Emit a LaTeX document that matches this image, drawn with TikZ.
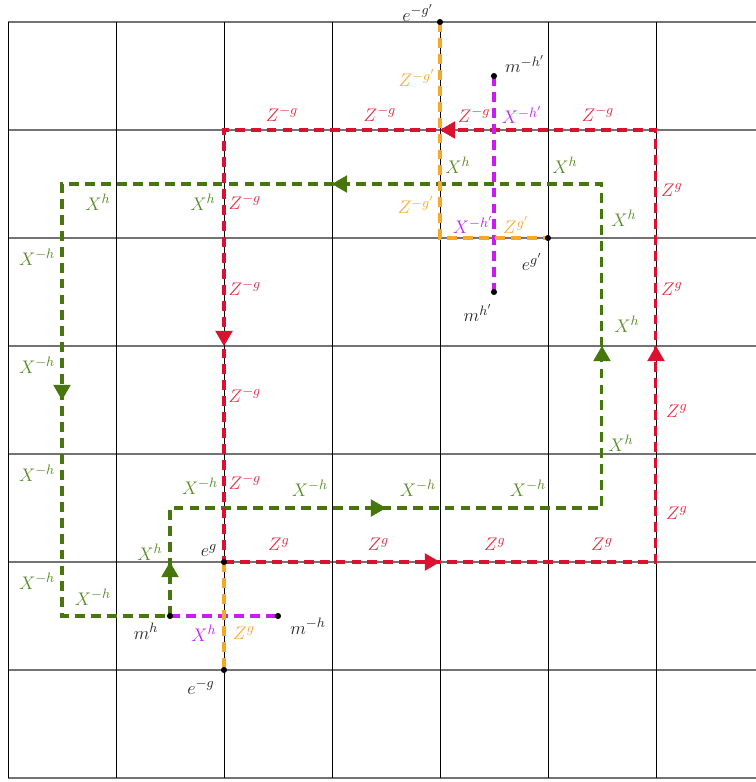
\documentclass[tikz,border=0pt]{standalone}
\usetikzlibrary{arrows.meta,decorations.markings}
\definecolor{redline}{RGB}{218,18,48}
\definecolor{redtext}{RGB}{226,44,66}
\definecolor{greenline}{RGB}{70,118,12}
\definecolor{greentext}{RGB}{88,138,38}
\definecolor{orangeline}{RGB}{247,168,40}
\definecolor{orangetext}{RGB}{247,170,52}
\definecolor{purpleline}{RGB}{200,28,240}
\definecolor{purpletext}{RGB}{190,40,235}
\begin{document}
\begin{tikzpicture}[x=2.5cm,y=2.5cm,
  font=\fontsize{12.7}{14}\selectfont,
  dline/.style={line width=2pt, dash pattern=on 6.5pt off 4pt},
  midarrow/.style={decoration={markings, mark=at position 0.5 with {\arrow{Triangle[length=10pt,width=11.5pt]}}}, postaction={decorate}},
  dot/.style={circle, fill=black, inner sep=0pt, minimum size=4pt},
  lbl/.style={inner sep=0pt},
  rl/.style={lbl, text=redtext},
  gl/.style={lbl, text=greentext},
  ol/.style={lbl, text=orangetext},
  pl/.style={lbl, text=purpletext},
  kl/.style={lbl, text=black!85}]
\useasboundingbox (-0.074,-0.037) rectangle (6.926,7.204);
% grid
\foreach \r in {0,...,7} \draw[black!55, line width=0.9pt] (0,\r) -- (6.926,\r);
\foreach \c in {0,...,6} \draw[black, line width=0.55pt] (\c,0) -- (\c,7);
% coordinates
\coordinate (R1) at (2,2); \coordinate (R2) at (6,2);
\coordinate (R3) at (6,6); \coordinate (R4) at (2,6);
\coordinate (G0) at (1.5,1.5); \coordinate (G1) at (1.5,2.5);
\coordinate (G2) at (5.5,2.5); \coordinate (G3) at (5.5,5.5);
\coordinate (G4) at (0.5,5.5); \coordinate (G5) at (0.5,1.5);
\coordinate (P1) at (2.5,1.5);
\coordinate (P2) at (4.5,6.5); \coordinate (P3) at (4.5,4.5);
\coordinate (O1) at (2,1);
\coordinate (O2) at (4,7); \coordinate (O3) at (4,5); \coordinate (O4) at (5,5);
% green loop
\draw[dline, greenline] (G0) -- (G1) -- (G2) -- (G3) -- (G4) -- (G5) -- (G0);
\foreach \a/\b in {G0/G1,G1/G2,G2/G3,G3/G4,G4/G5}
  \path[greenline, midarrow] (\a) -- (\b);
% red loop
\draw[dline, redline] (R1) -- (R2) -- (R3) -- (R4) -- cycle;
\foreach \a/\b in {R1/R2,R2/R3,R3/R4,R4/R1}
  \path[redline, midarrow] (\a) -- (\b);
% purple
\draw[dline, purpleline] (G0) -- (P1);
\draw[dline, purpleline] (P2) -- (P3);
% orange
\draw[dline, orangeline, line width=2.2pt] (R1) -- (O1);
\draw[dline, orangeline, line width=2.2pt] (O2) -- (O3) -- (O4);
% dots
\node[dot] (eg) at (R1) {};
\node[dot] (emg) at (O1) {};
\node[dot] (mh) at (G0) {};
\node[dot] (mmh) at (P1) {};
\node[dot] (emgp) at (O2) {};
\node[dot] (egp) at (O4) {};
\node[dot] (mmhp) at (P2) {};
\node[dot] (mhp) at (P3) {};
% black labels
\node[kl] at (3.796,7.085) {$e^{-g'}$};
\node[kl] at (4.787,6.611) {$m^{-h'}$};
\node[kl] at (4.852,4.778) {$e^{g'}$};
\node[kl] at (4.352,4.306) {$m^{h'}$};
\node[kl] at (1.861,2.105) {$e^{g}$};
\node[kl] at (1.278,1.361) {$m^{h}$};
\node[kl] at (2.778,1.407) {$m^{-h}$};
\node[kl] at (1.787,0.843) {$e^{-g}$};
% orange labels
\node[ol] at (3.787,6.481) {$Z^{-g'}$};
\node[ol] at (3.778,5.306) {$Z^{-g'}$};
\node[ol] at (4.704,5.120) {$Z^{g'}$};
\node[ol] at (2.185,1.343) {$Z^{g}$};
% purple labels
\node[pl] at (4.759,6.139) {$X^{-h'}$};
\node[pl] at (4.306,5.120) {$X^{-h'}$};
\node[pl] at (1.815,1.343) {$X^{h}$};
% red labels
\foreach \c in {2.537,3.444,5.463} \node[rl] at (\c,6.148) {$Z^{-g}$};
\node[rl] at (4.315,6.139) {$Z^{-g}$};
\foreach \r in {5.333,4.537,3.546,2.741} \node[rl] at (2.194,\r) {$Z^{-g}$};
\foreach \c in {2.509,3.430,4.509,5.500} \node[rl] at (\c,2.160) {$Z^{g}$};
\node[rl] at (6.148,5.444) {$Z^{g}$};
\node[rl] at (6.148,4.528) {$Z^{g}$};
\node[rl] at (6.194,3.398) {$Z^{g}$};
\node[rl] at (6.194,2.454) {$Z^{g}$};
% green labels
\node[gl] at (4.167,5.676) {$X^{h}$};
\node[gl] at (5.157,5.676) {$X^{h}$};
\node[gl] at (5.704,5.185) {$X^{h}$};
\node[gl] at (5.731,4.204) {$X^{h}$};
\node[gl] at (5.676,3.102) {$X^{h}$};
\node[gl] at (0.833,5.333) {$X^{h}$};
\node[gl] at (1.806,5.333) {$X^{h}$};
\foreach \r in {4.824,3.824,2.824,1.824} \node[gl] at (0.269,\r) {$X^{-h}$};
\node[gl] at (0.787,1.676) {$X^{-h}$};
\node[gl] at (1.315,2.093) {$X^{h}$};
\node[gl] at (1.778,2.704) {$X^{-h}$};
\foreach \c in {2.796,3.796,4.815} \node[gl] at (\c,2.685) {$X^{-h}$};
\end{tikzpicture}
\end{document}
